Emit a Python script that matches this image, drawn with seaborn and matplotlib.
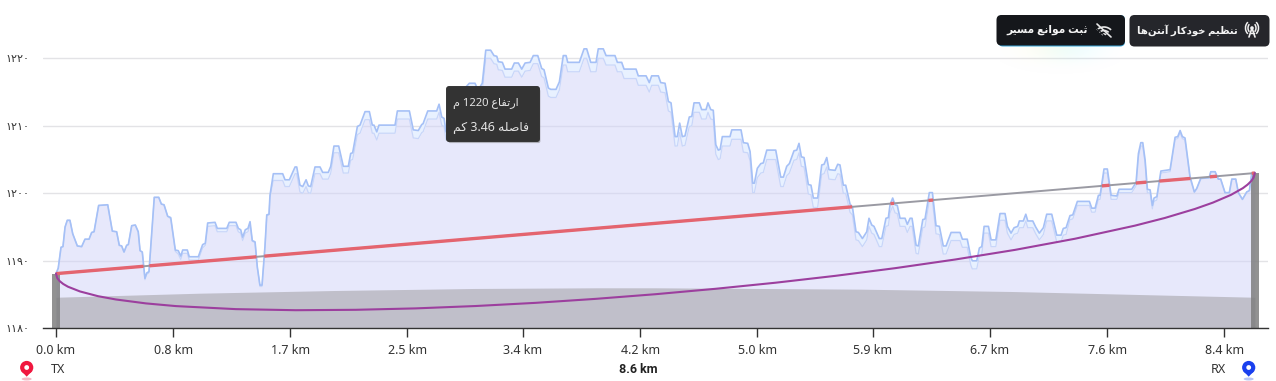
import re
import numpy as np
import pandas as pd
import seaborn as sns
import matplotlib
matplotlib.use('Agg')
from matplotlib import pyplot as plt
from matplotlib import patches as mpatches
from matplotlib import patheffects as pe

# path profile
dist_km = [
    0.000, 0.016, 0.036, 0.050, 0.065, 0.081, 0.100, 0.120, 0.153, 0.184,
    0.208, 0.237, 0.256, 0.273, 0.306, 0.371, 0.404, 0.435, 0.454, 0.471,
    0.488, 0.507, 0.519, 0.543, 0.569, 0.590, 0.603, 0.619, 0.638, 0.651,
    0.667, 0.687, 0.705, 0.737, 0.756, 0.775, 0.801, 0.823, 0.856, 0.877,
    0.895, 0.909, 0.942, 0.956, 1.021, 1.052, 1.071, 1.088, 1.141, 1.157,
    1.225, 1.243, 1.291, 1.308, 1.325, 1.339, 1.358, 1.377, 1.392, 1.408,
    1.428, 1.444, 1.463, 1.478, 1.499, 1.512, 1.528, 1.535, 1.559, 1.626,
    1.643, 1.674, 1.715, 1.727, 1.750, 1.770, 1.794, 1.810, 1.827, 1.858,
    1.894, 1.913, 1.953, 1.971, 1.994, 2.028, 2.061, 2.097, 2.114, 2.128,
    2.162, 2.181, 2.217, 2.248, 2.269, 2.281, 2.301, 2.317, 2.432, 2.449,
    2.535, 2.563, 2.599, 2.624, 2.633, 2.667, 2.731, 2.748, 2.767, 2.784,
    2.798, 2.827, 2.863, 2.898, 2.934, 2.965, 3.006, 3.027, 3.058, 3.083,
    3.118, 3.142, 3.162, 3.173, 3.202, 3.221, 3.269, 3.288, 3.317, 3.341,
    3.365, 3.401, 3.424, 3.456, 3.484, 3.501, 3.532, 3.549, 3.587, 3.611,
    3.639, 3.659, 3.671, 3.754, 3.788, 3.807, 3.836, 3.874, 3.890, 3.926,
    3.946, 4.010, 4.027, 4.058, 4.075, 4.161, 4.177, 4.233, 4.256, 4.273,
    4.321, 4.338, 4.369, 4.393, 4.412, 4.441, 4.457, 4.474, 4.493, 4.512,
    4.543, 4.561, 4.577, 4.615, 4.632, 4.663, 4.677, 4.697, 4.715, 4.733,
    4.751, 4.764, 4.780, 4.835, 4.848, 4.914, 4.931, 4.962, 4.979, 4.998,
    5.010, 5.031, 5.056, 5.074, 5.099, 5.163, 5.199, 5.218, 5.242, 5.261,
    5.294, 5.314, 5.330, 5.347, 5.366, 5.397, 5.416, 5.433, 5.464, 5.493,
    5.510, 5.529, 5.545, 5.589, 5.608, 5.624, 5.648, 5.665, 5.696, 5.713,
    5.739, 5.756, 5.785, 5.816, 5.832, 5.852, 5.868, 5.906, 5.924, 5.954,
    5.971, 5.983, 6.002, 6.019, 6.035, 6.055, 6.091, 6.107, 6.127, 6.141,
    6.170, 6.186, 6.218, 6.234, 6.265, 6.287, 6.313, 6.337, 6.365, 6.385,
    6.421, 6.485, 6.502, 6.537, 6.562, 6.573, 6.605, 6.624, 6.641, 6.658,
    6.689, 6.708, 6.742, 6.772, 6.808, 6.825, 6.851, 6.873, 6.899, 6.911,
    6.939, 6.957, 6.971, 7.007, 7.028, 7.054, 7.083, 7.107, 7.143, 7.179,
    7.210, 7.226, 7.246, 7.274, 7.294, 7.327, 7.413, 7.430, 7.454, 7.478,
    7.490, 7.518, 7.542, 7.569, 7.610, 7.626, 7.717, 7.748, 7.765, 7.782,
    7.796, 7.813, 7.829, 7.849, 7.865, 7.877, 7.897, 7.926, 7.992, 8.028,
    8.047, 8.064, 8.080, 8.099, 8.135, 8.166, 8.183, 8.212, 8.272, 8.284,
    8.315, 8.338, 8.355, 8.386, 8.417, 8.435, 8.463, 8.482, 8.511, 8.542,
    8.561, 8.578, 8.600,
]
surface_m = [
    1188.1, 1188.9, 1192.0, 1192.1, 1195.0, 1196.0, 1196.0, 1194.0, 1192.2, 1192.1,
    1193.2, 1193.2, 1194.2, 1194.3, 1198.2, 1198.3, 1194.4, 1194.3, 1192.3, 1192.2,
    1191.3, 1192.3, 1192.4, 1195.2, 1195.3, 1194.3, 1191.5, 1191.3, 1187.4, 1188.2,
    1188.4, 1194.1, 1199.4, 1199.4, 1198.4, 1198.3, 1196.6, 1196.4, 1191.6, 1191.5,
    1190.7, 1191.6, 1191.6, 1190.6, 1190.6, 1192.4, 1192.6, 1195.6, 1195.7, 1194.8,
    1194.8, 1195.7, 1195.7, 1194.8, 1194.6, 1193.5, 1194.6, 1194.8, 1195.8, 1193.0,
    1192.8, 1189.1, 1186.4, 1186.4, 1192.1, 1196.8, 1196.9, 1199.7, 1202.9, 1202.9,
    1202.0, 1202.0, 1203.9, 1203.9, 1201.2, 1201.0, 1202.0, 1201.1, 1201.0, 1203.9,
    1203.9, 1203.1, 1203.1, 1204.0, 1207.0, 1207.0, 1204.0, 1204.0, 1205.9, 1206.0,
    1209.9, 1210.1, 1212.1, 1212.1, 1210.1, 1210.1, 1209.1, 1210.1, 1210.1, 1212.2,
    1212.2, 1209.4, 1209.3, 1210.2, 1210.3, 1212.2, 1212.2, 1213.2, 1211.3, 1211.1,
    1209.1, 1209.7, 1212.2, 1213.8, 1215.6, 1216.3, 1216.3, 1215.3, 1216.3, 1221.2,
    1221.2, 1220.4, 1220.3, 1219.5, 1219.4, 1218.4, 1218.4, 1219.3, 1219.3, 1218.4,
    1219.3, 1219.4, 1220.4, 1220.4, 1218.5, 1218.3, 1215.6, 1215.4, 1215.4, 1216.5,
    1220.4, 1220.4, 1219.4, 1219.4, 1221.4, 1221.4, 1219.4, 1219.4, 1221.4, 1221.4,
    1220.4, 1220.4, 1219.4, 1219.4, 1218.4, 1218.4, 1217.4, 1217.4, 1216.4, 1217.4,
    1217.4, 1216.4, 1216.3, 1213.6, 1213.4, 1208.4, 1208.4, 1210.4, 1208.4, 1208.5,
    1211.3, 1211.4, 1213.4, 1213.4, 1212.4, 1212.4, 1213.4, 1212.4, 1212.3, 1207.2,
    1206.4, 1206.5, 1208.4, 1208.4, 1209.4, 1209.4, 1207.5, 1207.4, 1206.2, 1201.5,
    1201.5, 1203.7, 1204.4, 1204.5, 1206.4, 1206.4, 1202.4, 1202.4, 1204.0, 1204.4,
    1206.3, 1206.4, 1207.4, 1205.4, 1205.3, 1201.3, 1201.2, 1199.3, 1199.3, 1204.2,
    1204.3, 1205.3, 1203.5, 1203.4, 1204.3, 1204.2, 1201.2, 1201.2, 1198.4, 1198.0,
    1194.3, 1194.2, 1193.3, 1194.3, 1196.3, 1195.3, 1195.1, 1193.3, 1193.3, 1196.3,
    1196.4, 1198.3, 1199.3, 1198.3, 1198.2, 1196.3, 1196.3, 1195.4, 1196.3, 1196.3,
    1192.3, 1192.2, 1196.1, 1196.2, 1200.1, 1200.1, 1195.2, 1195.1, 1192.2, 1192.2,
    1194.2, 1194.2, 1193.2, 1193.2, 1190.6, 1190.0, 1190.0, 1191.9, 1192.1, 1195.1,
    1195.1, 1193.1, 1193.1, 1197.0, 1197.0, 1195.1, 1194.1, 1194.9, 1195.1, 1195.9,
    1195.9, 1196.9, 1195.9, 1195.9, 1195.0, 1194.1, 1194.9, 1196.9, 1196.9, 1193.8,
    1193.8, 1194.8, 1194.9, 1196.7, 1196.8, 1198.8, 1198.8, 1197.8, 1197.8, 1199.7,
    1199.7, 1203.6, 1203.6, 1199.7, 1199.6, 1200.6, 1200.6, 1201.6, 1205.9, 1207.5,
    1207.5, 1204.9, 1200.6, 1200.5, 1198.2, 1199.3, 1199.5, 1203.3, 1203.5, 1208.3,
    1208.4, 1209.3, 1208.4, 1208.2, 1202.5, 1200.2, 1200.7, 1202.2, 1202.3, 1203.2,
    1203.2, 1202.1, 1202.1, 1200.1, 1200.1, 1202.1, 1202.1, 1200.1, 1199.1, 1200.2,
    1200.4, 1203.0, 1203.1,
]
terrain_m = [
    1188.1, 1188.9, 1192.0, 1192.1, 1195.0, 1196.0, 1196.0, 1194.0, 1192.2, 1192.1,
    1193.2, 1193.2, 1194.2, 1194.3, 1198.2, 1198.3, 1194.4, 1194.3, 1192.3, 1192.2,
    1191.3, 1192.3, 1192.4, 1195.2, 1195.3, 1194.3, 1191.5, 1191.3, 1187.2, 1188.0,
    1188.2, 1194.1, 1199.4, 1199.4, 1198.4, 1198.3, 1196.6, 1196.2, 1191.4, 1191.0,
    1190.2, 1191.1, 1191.1, 1190.1, 1190.1, 1191.9, 1192.3, 1195.1, 1195.2, 1194.3,
    1194.3, 1195.2, 1195.2, 1194.3, 1194.1, 1193.0, 1194.1, 1194.3, 1195.3, 1192.9,
    1192.7, 1189.0, 1186.2, 1186.2, 1192.0, 1196.7, 1196.8, 1199.4, 1201.9, 1201.9,
    1201.0, 1201.0, 1202.9, 1202.9, 1200.2, 1200.0, 1201.0, 1200.1, 1200.0, 1202.9,
    1202.9, 1202.1, 1202.1, 1203.0, 1206.0, 1206.0, 1203.0, 1203.0, 1204.9, 1205.0,
    1208.7, 1208.9, 1210.9, 1210.9, 1208.9, 1208.9, 1207.9, 1208.9, 1208.9, 1211.0,
    1211.0, 1208.2, 1208.1, 1209.0, 1209.1, 1211.0, 1211.0, 1212.0, 1210.1, 1209.9,
    1207.9, 1208.5, 1211.0, 1212.6, 1214.4, 1215.1, 1215.1, 1214.1, 1215.1, 1220.0,
    1220.0, 1219.2, 1219.1, 1218.3, 1218.2, 1217.2, 1217.2, 1218.1, 1218.1, 1217.2,
    1218.1, 1218.2, 1219.2, 1219.2, 1217.3, 1217.1, 1214.4, 1214.2, 1214.2, 1215.3,
    1219.0, 1219.0, 1218.0, 1218.0, 1220.0, 1220.0, 1218.0, 1218.0, 1220.0, 1220.0,
    1219.0, 1219.0, 1218.0, 1218.0, 1217.0, 1217.0, 1216.0, 1216.0, 1215.0, 1216.0,
    1216.0, 1215.0, 1214.9, 1212.2, 1212.0, 1207.0, 1207.0, 1209.0, 1207.0, 1207.1,
    1209.9, 1210.0, 1212.0, 1212.0, 1211.0, 1211.0, 1212.0, 1211.0, 1210.9, 1205.8,
    1205.0, 1205.1, 1207.0, 1207.0, 1208.0, 1208.0, 1206.1, 1206.0, 1204.8, 1200.1,
    1200.1, 1202.3, 1203.0, 1203.1, 1205.0, 1205.0, 1201.0, 1201.0, 1202.6, 1203.0,
    1204.9, 1205.0, 1206.0, 1204.0, 1203.9, 1199.9, 1199.8, 1197.9, 1197.9, 1202.8,
    1202.9, 1203.9, 1202.1, 1202.0, 1202.9, 1202.8, 1200.0, 1200.0, 1197.2, 1196.8,
    1193.1, 1193.0, 1192.1, 1193.1, 1195.1, 1194.1, 1193.9, 1192.1, 1192.1, 1195.1,
    1195.2, 1197.1, 1198.1, 1197.1, 1197.0, 1195.1, 1195.1, 1194.2, 1195.1, 1195.1,
    1191.1, 1191.0, 1194.9, 1195.0, 1198.9, 1198.9, 1194.0, 1193.9, 1191.0, 1191.0,
    1193.0, 1193.0, 1192.0, 1192.0, 1189.4, 1188.8, 1188.8, 1190.7, 1190.9, 1194.1,
    1194.1, 1192.1, 1192.1, 1196.0, 1196.0, 1194.1, 1193.1, 1193.9, 1194.1, 1194.9,
    1194.9, 1195.9, 1194.9, 1194.9, 1194.0, 1193.1, 1193.9, 1195.9, 1195.9, 1192.8,
    1192.8, 1193.8, 1193.9, 1196.1, 1196.2, 1198.2, 1198.2, 1197.2, 1197.2, 1199.1,
    1199.1, 1203.0, 1203.0, 1199.1, 1199.1, 1200.1, 1200.1, 1201.1, 1205.4, 1207.0,
    1207.0, 1204.4, 1200.1, 1200.0, 1197.7, 1198.8, 1199.0, 1203.0, 1203.2, 1208.0,
    1208.1, 1209.0, 1208.1, 1207.9, 1202.2, 1200.2, 1200.7, 1202.2, 1202.3, 1203.2,
    1203.2, 1202.1, 1202.1, 1200.1, 1200.1, 1202.1, 1202.1, 1200.1, 1199.1, 1200.2,
    1200.4, 1203.0, 1203.1,
]

# line of sight, lower fresnel edge, earth bulge, antennas
los_km = [0.0, 8.6]
los_m = [1188.1, 1203.0]
fresnel_km = [0.0, 0.0086, 0.0258, 0.0516, 0.086, 0.172, 0.301, 0.43, 0.645, 0.86,
              1.29, 1.72, 2.15, 2.58, 3.01, 3.44, 3.87, 4.3, 4.73, 5.16,
              5.59, 6.02, 6.45, 6.88, 7.31, 7.74, 7.955, 8.17, 8.299, 8.428,
              8.514, 8.548, 8.574, 8.591, 8.6]
fresnel_m = [1188.10, 1187.45, 1187.00, 1186.57, 1186.16, 1185.46, 1184.76, 1184.27, 1183.69, 1183.29,
             1182.84, 1182.68, 1182.74, 1182.95, 1183.30, 1183.77, 1184.36, 1185.05, 1185.85, 1186.75,
             1187.77, 1188.91, 1190.19, 1191.62, 1193.27, 1195.21, 1196.35, 1197.68, 1198.62, 1199.76,
             1200.76, 1201.29, 1201.81, 1202.33, 1203.00]
earth_km = [0.0, 1.03, 2.0, 2.68, 3.0, 3.88, 4.3, 5.77, 6.86, 8.6]
earth_m = [1184.6, 1185.2, 1185.6, 1185.8, 1185.9, 1186.0, 1186.0, 1185.8, 1185.45, 1184.6]
tower_km = [0.0, 8.6]
tower_top_m = [1188.1, 1203.0]

tick_km = [0.0, 0.84, 1.68, 2.52, 3.35, 4.19, 5.03, 5.86, 6.70, 7.54, 8.38]
tick_labels = ['0.0 km', '0.8 km', '1.7 km', '2.5 km', '3.4 km', '4.2 km', '5.0 km', '5.9 km', '6.7 km', '7.6 km', '8.4 km']
ytick_m = [1180, 1190, 1200, 1210, 1220]
ytick_labels = ['۱۱۸۰', '۱۱۹۰', '۱۲۰۰', '۱۲۱۰', '۱۲۲۰']

# matplotlib does not join arabic letters, so pick the presentation forms by hand
# letter: isolated, final, initial, medial
FORMS = {
    'ا': (0xFE8D, 0xFE8E), 'آ': (0xFE81, 0xFE82), 'د': (0xFEA9, 0xFEAA),
    'ر': (0xFEAD, 0xFEAE), 'و': (0xFEED, 0xFEEE),
    'ب': (0xFE8F, 0xFE90, 0xFE91, 0xFE92), 'ت': (0xFE95, 0xFE96, 0xFE97, 0xFE98),
    'ث': (0xFE99, 0xFE9A, 0xFE9B, 0xFE9C), 'خ': (0xFEA5, 0xFEA6, 0xFEA7, 0xFEA8),
    'س': (0xFEB1, 0xFEB2, 0xFEB3, 0xFEB4), 'ص': (0xFEB9, 0xFEBA, 0xFEBB, 0xFEBC),
    'ظ': (0xFEC5, 0xFEC6, 0xFEC7, 0xFEC8), 'ع': (0xFEC9, 0xFECA, 0xFECB, 0xFECC),
    'ف': (0xFED1, 0xFED2, 0xFED3, 0xFED4), 'ک': (0xFB8E, 0xFB8F, 0xFB90, 0xFB91),
    'ل': (0xFEDD, 0xFEDE, 0xFEDF, 0xFEE0), 'م': (0xFEE1, 0xFEE2, 0xFEE3, 0xFEE4),
    'ن': (0xFEE5, 0xFEE6, 0xFEE7, 0xFEE8), 'ه': (0xFEE9, 0xFEEA, 0xFEEB, 0xFEEC),
    'ی': (0xFBFC, 0xFBFD, 0xFBFE, 0xFBFF),
}


def fa(text):
    out = []
    for i, ch in enumerate(text):
        if ch not in FORMS:
            if ch != '\u200c':
                out.append(ch)
            continue
        prev = text[i - 1] if i > 0 else ''
        nxt = text[i + 1] if i + 1 < len(text) else ''
        joins_prev = prev in FORMS and len(FORMS[prev]) == 4
        joins_next = nxt in FORMS and len(FORMS[ch]) == 4
        if joins_prev and joins_next:
            code = FORMS[ch][3]
        elif joins_next:
            code = FORMS[ch][2]
        elif joins_prev:
            code = FORMS[ch][1]
        else:
            code = FORMS[ch][0]
        out.append(chr(code))
    visual = ''.join(out)[::-1]
    return re.sub(r'[\d.]+', lambda m: m.group()[::-1], visual)


sns.set_style('white')
plt.rcParams['font.family'] = ['Noto Sans', 'DejaVu Sans']

W, H = 1276, 381
fig = plt.figure(figsize=(W / 100, H / 100), dpi=100)
ax = fig.add_axes([43 / W, (H - 328.3) / H, 1225 / W, 288.3 / H])

profile = pd.DataFrame({'km': dist_km, 'surface': surface_m, 'terrain': terrain_m})
fresnel = pd.DataFrame({'km': fresnel_km, 'm': fresnel_m})

ax.grid(axis='y', color='#e3e3e6', linewidth=1)
ax.set_axisbelow(True)

ax.fill_between(profile.km, 1180, profile.terrain, color='#d0d2f8', alpha=0.5, linewidth=0, zorder=1.2)
ax.fill_between(profile.km, profile.terrain, profile.surface, color='#e8f1ff', linewidth=0, zorder=1.2)
ax.fill_between(earth_km, 1180, earth_m, color='#c0bfca', linewidth=0, zorder=1.4)
ax.bar(tower_km, np.array(tower_top_m) - 1180, bottom=1180, width=0.055, color='#7f7f7f', alpha=0.85, linewidth=0, zorder=1.6)

sns.lineplot(data=profile, x='km', y='terrain', ax=ax, color='#c9d6f9', linewidth=0.9, estimator=None, sort=False, zorder=2)
sns.lineplot(data=profile, x='km', y='surface', ax=ax, color='#a5c0f6', linewidth=1.2, estimator=None, sort=False, zorder=2.1)

# grey sight line, red where the ground cuts it
sight = pd.DataFrame({'km': los_km, 'm': los_m})
sns.lineplot(data=sight, x='km', y='m', ax=ax, color='#9a9aa3', linewidth=1.4, estimator=None, sort=False, zorder=2.2)
fine_km = np.linspace(los_km[0], los_km[1], 2400)
fine_los = np.interp(fine_km, los_km, los_m)
blocked = np.interp(fine_km, dist_km, surface_m) >= fine_los
ax.plot(fine_km, np.ma.masked_where(~blocked, fine_los), color='#e4646f', linewidth=2.4, solid_capstyle='butt', zorder=2.3)
sns.lineplot(data=fresnel, x='km', y='m', ax=ax, color='#9c3f9e', linewidth=1.5, estimator=None, sort=False, zorder=2.4)

ax.set_xlim((43 - 56) / 139.4, (1268 - 56) / 139.4)
ax.set_ylim(1180, 1180 + 288.3 / 6.75)
ax.set_xticks(tick_km, tick_labels)
ax.set_yticks(ytick_m, ytick_labels)
ax.set_xlabel('')
ax.set_ylabel('')
ax.tick_params(axis='x', length=6.5, width=1, color='#333333', labelcolor='#333333', labelsize=9, pad=5, bottom=True)
ax.tick_params(axis='y', length=0, labelcolor='#333333', labelsize=8, pad=10)
sns.despine(ax=ax, left=True)
ax.spines['bottom'].set_color('#333333')
ax.spines['bottom'].set_linewidth(1)

# everything around the chart is placed in screen pixels
ui = fig.add_axes([0, 0, 1, 1], zorder=5)
ui.set_xlim(0, W)
ui.set_ylim(H, 0)
ui.axis('off')
ui.patch.set_alpha(0)

# tooltip
tip = mpatches.FancyBboxPatch((447, 87), 92, 54, boxstyle='round,pad=0,rounding_size=2', facecolor='#333333', edgecolor='#333333', linewidth=1.4, joinstyle='round')
tip.set_path_effects([pe.SimplePatchShadow(offset=(1, -1.5), shadow_rgbFace='#777777', alpha=0.5), pe.Normal()])
ui.add_patch(tip)
ui.text(453, 103.5, fa('ارتفاع 1220 م'), color='#e4e4e4', fontsize=8.1, ha='left', va='center')
ui.text(453, 127.5, fa('فاصله 3.46 کم'), color='#e4e4e4', fontsize=8.9, ha='left', va='center')

# glow below the obstacle button
yy, xx = np.mgrid[46:80, 1000:1120]
alpha = 0.18 * np.exp(-((xx - 1060) / 36.0) ** 2 - ((yy - 48) / 13.0) ** 2)
glow = np.zeros(xx.shape + (4,))
mix = np.clip((xx - 1020) / 70.0, 0, 1)
glow[..., 0] = 0.98 - 0.45 * mix
glow[..., 1] = 0.96
glow[..., 2] = 0.62 + 0.38 * mix
glow[..., 3] = alpha
ui.imshow(glow, extent=(1000, 1120, 80, 46), aspect='auto', zorder=1)
ui.set_xlim(0, W)
ui.set_ylim(H, 0)

# buttons
ui.add_patch(mpatches.FancyBboxPatch((998, 15), 127, 31.5, boxstyle='round,pad=0,rounding_size=5', facecolor='#3aa6d8', edgecolor='none', zorder=2))
ui.add_patch(mpatches.FancyBboxPatch((996.5, 15), 128.5, 30.5, boxstyle='round,pad=0,rounding_size=5', facecolor='#15171b', edgecolor='none', zorder=3))
ui.add_patch(mpatches.FancyBboxPatch((1129.5, 15), 140, 31.5, boxstyle='round,pad=0,rounding_size=5', facecolor='#25262b', edgecolor='none', zorder=3))
ui.text(1088, 30.5, fa('ثبت موانع مسیر'), color='#f4f4f4', fontsize=7.7, fontweight='bold', ha='right', va='center', zorder=4)
ui.text(1238, 30.5, fa('تنظیم خودکار آنتن\u200cها'), color='#f4f4f4', fontsize=7.3, fontweight='bold', ha='right', va='center', zorder=4)

# wifi-off icon
for d in (20, 13, 6):
    ui.add_patch(mpatches.Arc((1104, 37), d, d, theta1=225, theta2=315, color='#e8e8e8', linewidth=1.2, zorder=4))
ui.plot([1097, 1111], [24, 37], color='#e8e8e8', linewidth=1.2, zorder=4)
ui.plot([1095, 1106], [27, 37], color='#15171b', linewidth=0.8, zorder=4)

# antenna icon
ui.add_patch(mpatches.Circle((1252, 28), 1.8, facecolor='#f0f0f0', edgecolor='none', zorder=4))
ui.plot([1249, 1252, 1255], [37, 28, 37], color='#f0f0f0', linewidth=1.2, zorder=4)
ui.plot([1250, 1254], [33, 33], color='#f0f0f0', linewidth=1, zorder=4)
for d in (8, 13):
    ui.add_patch(mpatches.Arc((1252, 28), d, d + 2, theta1=125, theta2=235, color='#f0f0f0', linewidth=1.1, zorder=4))
    ui.add_patch(mpatches.Arc((1252, 28), d, d + 2, theta1=-55, theta2=55, color='#f0f0f0', linewidth=1.1, zorder=4))


def pin(x, y, color, shadow):
    ui.add_patch(mpatches.Ellipse((x, y + 11), 10, 3, facecolor=shadow, edgecolor='none'))
    ui.add_patch(mpatches.Circle((x, y - 0.5), 6.6, facecolor=color, edgecolor='none'))
    ui.add_patch(mpatches.Polygon([(x - 5.8, y + 2.5), (x + 5.8, y + 2.5), (x, y + 8.7)], facecolor=color, edgecolor='none'))
    ui.add_patch(mpatches.Circle((x, y - 0.5), 2.4, facecolor='white', edgecolor='none'))


pin(26.7, 368, '#f0173f', '#f6b9c6')
pin(1248.7, 368, '#1a40ee', '#b9c6f6')
ui.text(51, 369.5, 'TX', color='#333333', fontsize=9, ha='left', va='center')
ui.text(1211, 369.5, 'RX', color='#333333', fontsize=9, ha='left', va='center')
ui.text(638.5, 369.5, '8.6 km', color='#222222', fontsize=9, fontfamily='Roboto', fontweight='bold', ha='center', va='center')

fig.savefig('out.png', dpi=100)
